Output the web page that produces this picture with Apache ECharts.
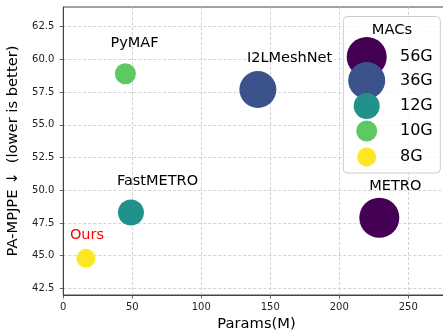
<!DOCTYPE html>
<html><head><meta charset="utf-8">
<script src="https://cdn.jsdelivr.net/npm/echarts@6/dist/echarts.min.js"></script>
<style>html,body{margin:0;padding:0;background:#fff}#c{width:443px;height:332px}</style>
</head><body><div id="c"></div>
<script>
// ---- data ----
const models = ['METRO', 'I2LMeshNet', 'FastMETRO', 'PyMAF', 'Ours'];
const macs = ['56G', '36G', '12G', '10G', '8G'];
const params = [229, 141, 49, 45, 16.4];
const paMpjpe = [47.9, 57.7, 48.3, 58.9, 44.8];
const xTicks = [0, 50, 100, 150, 200, 250];
const yTicks = [42.5, 45, 47.5, 50, 52.5, 55, 57.5, 60, 62.5];

// ---- style ----
const colors = ['#440154', '#3b528b', '#21918c', '#5ec962', '#fde725'];
const sizes = [40, 37, 26, 21, 19];
const labelOffsets = [[-10, -32], [-11, -31], [-14, -31], [-15, -31], [-16, -23]];
const labelColors = ['#000', '#000', '#000', '#000', '#ff0000'];
const legendRowY = [57, 80.5, 106, 131, 157];
const legendCx = 366.7, legendTextX = 400;
const FONT = 'DejaVu Sans';

const chart = echarts.init(document.getElementById('c'));
const series = models.map((m, i) => ({
  name: macs[i],
  type: 'scatter',
  symbol: 'circle',
  symbolSize: sizes[i],
  itemStyle: { color: colors[i], opacity: 1 },
  label: {
    show: true, position: 'inside', align: 'left', verticalAlign: 'middle',
    offset: labelOffsets[i], formatter: m, color: labelColors[i],
    fontFamily: FONT, fontSize: 14.5
  },
  emphasis: { disabled: true },
  data: [[params[i], paMpjpe[i]]]
}));

const legends = macs.map((g, i) => ({
  data: [g], orient: 'vertical', selectedMode: false,
  left: legendCx - sizes[i] / 2, top: legendRowY[i] - sizes[i] / 2, padding: 0,
  itemWidth: sizes[i], itemHeight: sizes[i], icon: 'circle',
  textStyle: { fontFamily: FONT, fontSize: 16, color: '#000',
    padding: [0, 0, 0, legendTextX - (legendCx + sizes[i] / 2 + 5)] }, z: 5
}));

const axisCommon = {
  axisLine: { show: true, onZero: false, lineStyle: { color: '#444', width: 1 } },
  axisTick: { show: true, length: 3.5, inside: false, lineStyle: { color: '#444', width: 0.8 } },
  splitLine: { show: true, lineStyle: { color: '#c8c8c8', type: [3, 2], width: 0.8 } },
  nameTextStyle: { fontFamily: FONT, fontSize: 14.7, color: '#000' }
};

chart.setOption({
  animation: false,
  grid: { left: 63.3, right: -6.7, top: 7, bottom: 37, outerBoundsMode: 'none', containLabel: false,
    show: true, borderColor: '#444', borderWidth: 1, backgroundColor: 'transparent' },
  xAxis: Object.assign({}, axisCommon, {
    type: 'value', min: 0, max: 280,
    name: 'Params(M)', nameLocation: 'middle', nameGap: 21,
    axisTick: Object.assign({}, axisCommon.axisTick, { customValues: xTicks }),
    axisLabel: { customValues: xTicks, fontFamily: FONT, fontSize: 10, color: '#222', margin: 7 }
  }),
  yAxis: Object.assign({}, axisCommon, {
    type: 'value', min: 42, max: 64,
    name: 'PA-MPJPE \u2193  (lower is better)', nameLocation: 'middle', nameGap: 36,
    axisTick: Object.assign({}, axisCommon.axisTick, { customValues: yTicks }),
    axisLabel: { customValues: yTicks, fontFamily: FONT, fontSize: 10, color: '#222', margin: 9,
      formatter: v => v.toFixed(1) }
  }),
  legend: legends,
  graphic: [
    { type: 'rect', z: 3, shape: { x: 343.3, y: 16.5, width: 97, height: 156.5, r: 4 },
      style: { fill: 'rgba(255,255,255,0.8)', stroke: '#cccccc', lineWidth: 1 } },
    { type: 'text', z: 5, x: 392, y: 30,
      style: { text: 'MACs', fontFamily: FONT, fontSize: 14.7, fill: '#000', align: 'center', verticalAlign: 'middle' } }
  ],
  series: series
});
</script></body></html>
